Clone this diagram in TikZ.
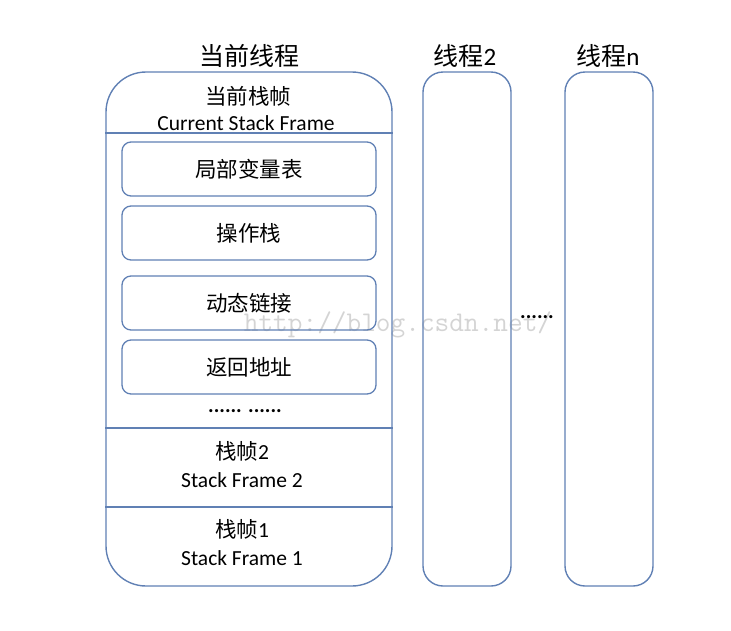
\documentclass[tikz,border=0pt]{standalone}
\usepackage{fontspec}
\setmainfont{Carlito}
\newfontfamily\cjk{Noto Sans CJK SC}
\definecolor{frameblue}{RGB}{96,128,180}
\definecolor{markgray}{RGB}{212,212,212}
\begin{document}
\begin{tikzpicture}[x=1pt,y=-1pt,
  thread/.style={draw=frameblue, line width=1.4pt, inner sep=0pt},
  slot/.style={draw=frameblue, line width=1.3pt, rounded corners=9pt, inner sep=0pt,
    minimum width=254pt, minimum height=54pt, font=\cjk\fontsize{21.5}{24}\selectfont},
  sep/.style={draw=frameblue, line width=1.3pt},
  title/.style={font=\cjk\fontsize{25}{28}\selectfont},
  cjklabel/.style={font=\cjk\fontsize{21.5}{24}\selectfont},
  enlabel/.style={font=\fontsize{21.5}{24}\selectfont},
  dots/.style={font=\fontsize{21}{24}\selectfont\bfseries}]
\useasboundingbox (0,0) rectangle (731,630);

% watermark behind everything
\node[font=\ttfamily\fontsize{28.5}{30}\selectfont, text=markgray] (mark) at (398,325) {http://blog.csdn.net/};

% thread columns
\node[thread, rounded corners=40pt, minimum width=286pt, minimum height=514pt] (cur) at (249,329) {};
\node[thread, rounded corners=20pt, minimum width=88pt, minimum height=514pt] (t2) at (467,329) {};
\node[thread, rounded corners=20pt, minimum width=88pt, minimum height=514pt] (tn) at (609,329) {};

% titles
\node[title] (curT) at (249,56) {当前线程};
\node[title] (t2T) at (465,56) {线程{\rmfamily 2}};
\node[title] (tnT) at (608,56) {线程{\rmfamily n}};

% current frame header
\node[cjklabel] (cfz) at (248,96) {当前栈帧};
\node[enlabel] (cfe) at (246,123) {Current Stack Frame};
\coordinate (s1) at (0,133);
\coordinate (s2) at (0,428);
\coordinate (s3) at (0,507);
\draw[sep] (cur.west |- s1) -- (cur.east |- s1);
\draw[sep] (cur.west |- s2) -- (cur.east |- s2);
\draw[sep] (cur.west |- s3) -- (cur.east |- s3);

% frame contents
\node[slot] (locals) at (249,169) {局部变量表};
\node[slot] (opstack) at (249,233) {操作栈};
\node[slot] (dynlink) at (249,303) {动态链接};
\node[slot] (retaddr) at (249,367) {返回地址};
\node[dots] (more) at (245,411) {...... ......};

% older frames
\node[cjklabel] (f2z) at (242,451) {栈帧{\rmfamily 2}};
\node[enlabel] (f2e) at (242,480) {Stack Frame 2};
\node[cjklabel] (f1z) at (242,529) {栈帧{\rmfamily 1}};
\node[enlabel] (f1e) at (242,558) {Stack Frame 1};

% gap between threads
\node[dots] (gap) at (537,317) {......};
\end{tikzpicture}
\end{document}
